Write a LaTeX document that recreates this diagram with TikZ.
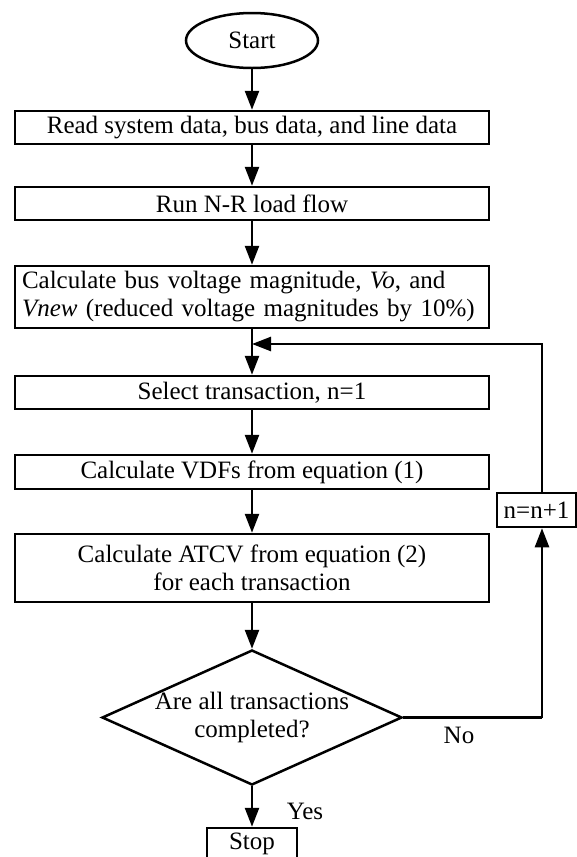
\documentclass[tikz,border=0pt]{standalone}
\usepackage{fontspec}
\setmainfont{Liberation Serif}
\usetikzlibrary{shapes.geometric,arrows.meta}
\begin{document}
\begin{tikzpicture}[x=1pt,y=-1pt,
  every node/.style={font=\fontsize{25}{28}\selectfont},
  link/.style={line width=2.5pt},
  proc/.style={draw, link, minimum width=474pt, inner sep=0pt, align=center},
  flow/.style={link, -{Triangle[length=19pt,width=14pt]}},
  lbl/.style={inner sep=0pt}]
\useasboundingbox (0,0) rectangle (577,857);
\clip (0,0) rectangle (577,857);

% process steps
\node[draw, link, ellipse, minimum width=132pt, minimum height=55pt, inner sep=0pt] (start) at (252,40.5) {Start};
\node[proc, minimum height=33pt] (read) at (252,127.5) {Read system data, bus data, and line data};
\node[proc, minimum height=33pt] (nr) at (252,203.5) {Run N-R load flow};
\node[proc, minimum height=62pt, text width=460pt, inner xsep=7pt, align=left] (volt) at (252,297)
  {Calculate bus voltage magnitude, \textit{Vo}, and\\\textit{Vnew} (reduced voltage magnitudes by 10\%)};
\node[proc, minimum height=33pt] (sel) at (252,392.5) {Select transaction, n=1};
\node[proc, minimum height=34pt] (vdf) at (252,472) {Calculate VDFs from equation (1)};
\node[proc, minimum height=68pt] (atcv) at (252,568) {Calculate ATCV from equation (2)\\for each transaction};

% decision
\node[draw, link, diamond, aspect=2.22, minimum width=300pt, minimum height=135pt, inner sep=0pt] (dec) at (252,717.5) {};
\node[align=center, inner sep=0pt] (dectext) at (dec.center) {Are all transactions\\completed?};

% end box, running past the lower edge
\node[draw, link, minimum width=90pt, minimum height=32pt, inner sep=0pt] (stop) at (252,844) {Stop};
\draw[link] (stop.south west) -- ++(0,20) (stop.south east) -- ++(0,20);
\node[draw, link, minimum width=79pt, minimum height=34pt, inner sep=0pt] (inc) at (536.5,510) {n=n+1};

\node[lbl] (no) at (459,735) {No};
\node[lbl] (yes) at (305,811) {Yes};

% loop-back route
\coordinate (noturn) at (542,717.5);
\coordinate (loopcorner) at (542,344);
\coordinate (join) at (252,344);

% connectors
\draw[flow] (start) -- (read);
\draw[flow] (read) -- (nr);
\draw[flow] (nr) -- (volt);
\draw[flow] (volt) -- (sel);
\draw[flow] (sel) -- (vdf);
\draw[flow] (vdf) -- (atcv);
\draw[flow] (atcv) -- (dec);
\draw[flow] (dec) -- (stop);
\draw[link] (dec.east) -- (noturn);
\draw[flow] (noturn) -- (noturn |- inc.south);
\draw[flow] (noturn |- inc.north) -- (loopcorner) -- (join);
\end{tikzpicture}
\end{document}
